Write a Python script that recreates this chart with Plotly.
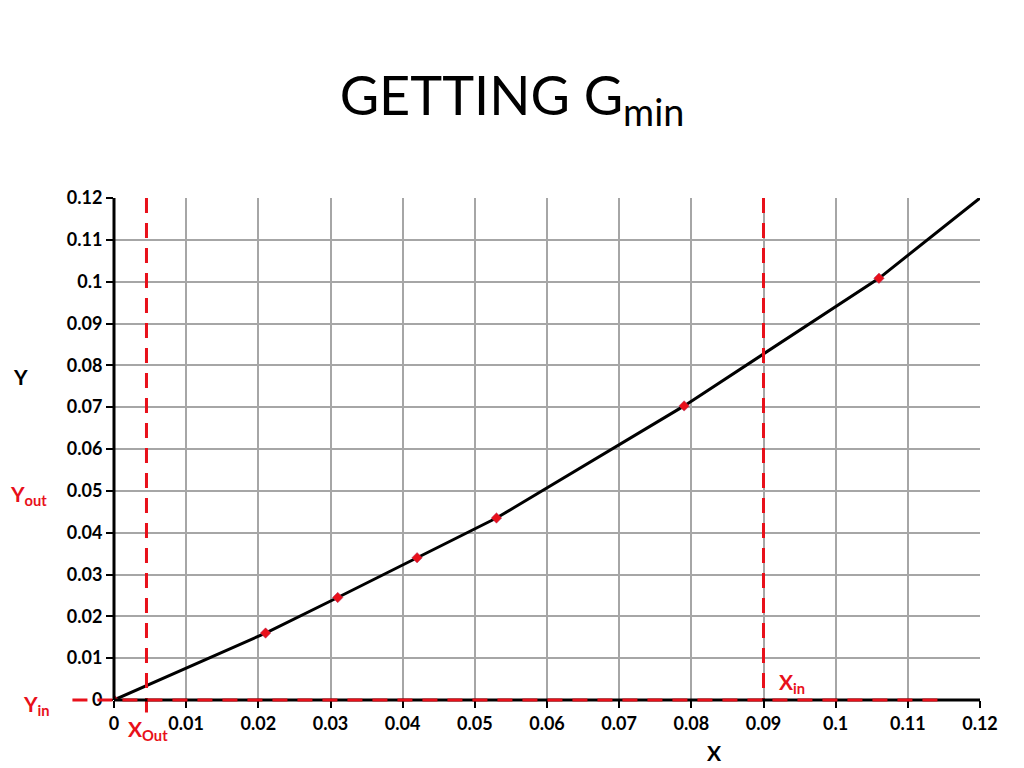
import plotly.graph_objects as go

# Data
pts_x = [0, 0.021, 0.031, 0.042, 0.053, 0.079, 0.106]
pts_y = [0, 0.016, 0.0245, 0.034, 0.0435, 0.0703, 0.1008]
line_x = [0, 0.021, 0.031, 0.042, 0.053, 0.079, 0.106, 0.12]
line_y = [0, 0.016, 0.0245, 0.034, 0.0435, 0.0703, 0.1008, 0.12]
x_out = 0.0045
x_in = 0.09
tick_vals = [0, 0.01, 0.02, 0.03, 0.04, 0.05, 0.06, 0.07, 0.08, 0.09, 0.1, 0.11, 0.12]
tick_text = ["0", "0.01", "0.02", "0.03", "0.04", "0.05", "0.06", "0.07", "0.08", "0.09", "0.1", "0.11", "0.12"]

FONT = "Lato"
RED = "#e8101a"

fig = go.Figure()
fig.add_trace(go.Scatter(x=line_x, y=line_y, mode="lines",
                         line=dict(color="black", width=3), hoverinfo="skip"))
fig.add_trace(go.Scatter(x=pts_x, y=pts_y, mode="markers",
                         marker=dict(symbol="diamond", color=RED, size=8,
                                     line=dict(color="#b03060", width=0.5))))

dash = "15px,10px"
fig.add_shape(type="line", xref="x", yref="paper", x0=x_out, x1=x_out, y0=1, y1=-0.025,
              line=dict(color=RED, width=3, dash=dash), layer="above")
fig.add_shape(type="line", xref="x", yref="paper", x0=x_in, x1=x_in, y0=1, y1=0,
              line=dict(color=RED, width=3, dash=dash), layer="above")

axis_common = dict(
    range=[0, 0.12], tickvals=tick_vals, ticktext=tick_text,
    showgrid=True, gridcolor="#a6a6a6", gridwidth=1.5,
    zeroline=False, ticks="outside", ticklen=7, tickwidth=2, tickcolor="black",
    tickfont=dict(family=FONT, size=18, color="black", weight="bold"),
    fixedrange=True,
)
fig.update_xaxes(**axis_common)
fig.update_yaxes(**axis_common)
# black left and bottom axis lines
fig.add_shape(type="line", xref="paper", yref="paper", x0=0, x1=0, y0=0, y1=1,
              line=dict(color="black", width=3), layer="above")
fig.add_shape(type="line", xref="paper", yref="paper", x0=0, x1=1, y0=0, y1=0,
              line=dict(color="black", width=3), layer="above")
# red dashed horizontal line on top of the x axis
fig.add_shape(type="line", xref="paper", yref="paper", x0=-0.048, x1=0.96, y0=0, y1=0,
              line=dict(color=RED, width=3, dash=dash), layer="above")

ann = [
    dict(text="Y", x=20, y=376, color="black"),
    dict(text="X", x=714, y=752, color="black"),
    dict(text="Y<sub>out</sub>", x=28, y=495, color=RED),
    dict(text="Y<sub>in</sub>", x=36, y=705, color=RED),
    dict(text="X<sub>Out</sub>", x=148, y=730, color=RED),
    dict(text="X<sub>in</sub>", x=792, y=683, color=RED),
]
for a in ann:
    fig.add_annotation(text=a["text"], xref="paper", yref="paper",
                       x=(a["x"] - 114) / 866, y=(700 - a["y"]) / 502,
                       showarrow=False, xanchor="center", yanchor="middle",
                       font=dict(family=FONT, size=21, color=a["color"], weight="bold"))

fig.update_layout(
    width=1024, height=768,
    margin=dict(l=114, r=44, t=198, b=68),
    paper_bgcolor="white", plot_bgcolor="white",
    showlegend=False,
    title=dict(text="GETTING G<sub>min</sub>", x=0.5, xanchor="center", y=0.875, yanchor="middle",
               font=dict(family=FONT, size=54, color="black")),
)
fig.write_html("out.html", config={"displayModeBar": False},
               post_script="document.body.style.margin='0px';")
